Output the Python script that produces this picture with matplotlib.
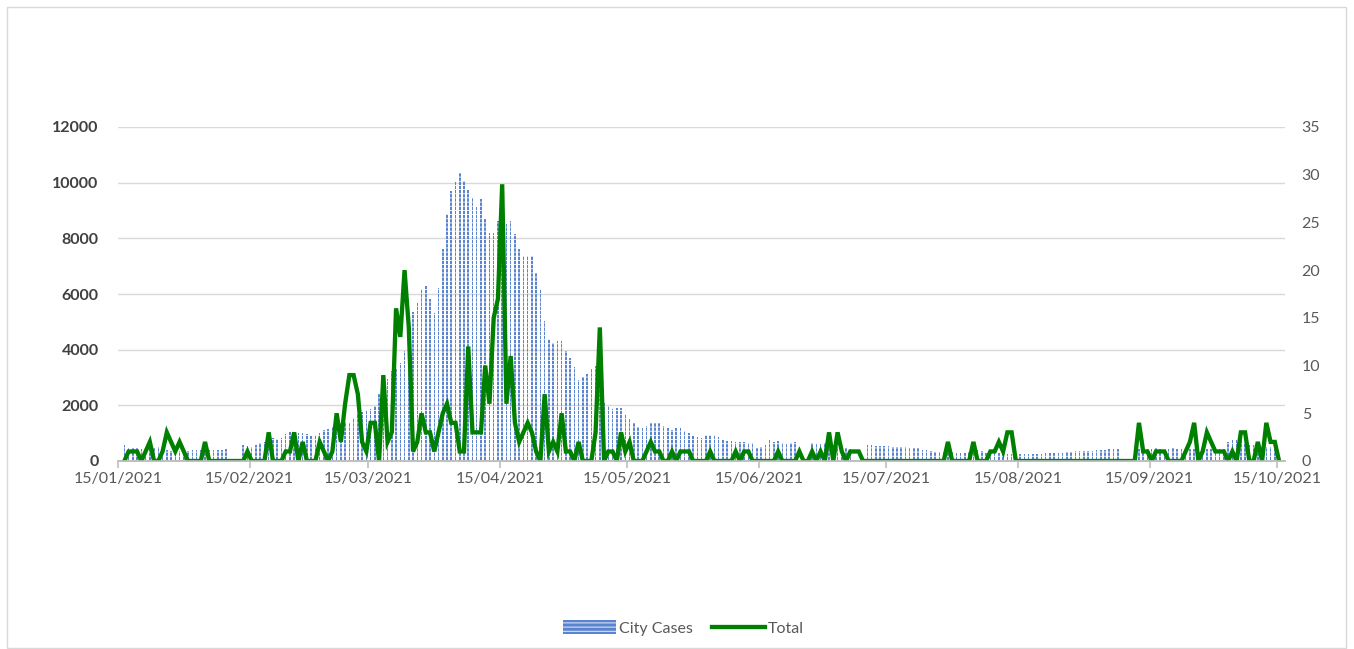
import numpy as np
import pandas as pd
import matplotlib
matplotlib.use("Agg")
import matplotlib.pyplot as plt
import matplotlib.dates as mdates
from matplotlib.patches import Rectangle

plt.rcParams['font.family'] = ['Lato', 'DejaVu Sans']
plt.rcParams['hatch.linewidth'] = 0.6

# Daily series, 16/01/2021 .. 15/10/2021 (None = no report that day)
dates = pd.date_range('2021-01-16', '2021-10-15', freq='D')

city_cases = (
    [560, 460, 450, 450, 430, 440, 560, 450, 500, 420, 380, 360, 380, 370, 350, 350,
     380, 380, 380, 430, 400, 410, 400, 410, 420]
    + [None, None, None]
    + [575, 540, 515, 575, 635, 700, 875, 840, 800, 820, 960, 1050, 1020, 1000]
    + [990, 960, 890, 920, 990, 1100, 1150, 1230, 1350, 1350, 1400, 1350, 1560, 1700,
       1760, 1820, 1880, 1960, 2420, 2650, 2950, 3250, 3300, 3510, 3960, 4680, 5370,
       5690, 6170, 6290, 5830, 5330, 6230, 7630, 8870, 9700, 10010, 10330]
    + [10060, 9740, 9460, 9110, 9430, 8700, 8190, 8190, 8610, 8630, 8520, 8630, 8150,
       7630, 7360, 7360, 7360, 6760, 6170, 5040, 4400, 4230, 4320, 4300, 3940, 3700,
       3370, 2920, 3010, 3130, 3290, 3400, 2600, 2100, 1960]
    + [1880, 1900, 1900, 1680, 1520, 1370, 1230, 1170, 1250, 1370, 1370, 1370, 1250,
       1170, 1130, 1200, 1170, 1080, 990, 890, 850, 810, 930, 950, 930, 850, 750, 730,
       730, 690, 690, 690, 650, 650, 450, 510, 570, 750, 690, 710, 630, 610, 650, 680]
    + [None, None, None]
    + [640, 620, 600, 640, 600, 560, 520, 480, 460, 420]
    + [None, None, None]
    + [560, 560, 550, 550, 540, 540, 520, 500, 500, 490, 480, 470, 460]
    + [400, 380, 350, 340, 330, 320, 310, 310, 300, 300, 290, 320, 350, 380, 370]
    + [300, 280, 280, 270, 270, 260, 260, 250]
    + [240, 240, 240, 250, 260, 260, 270, 270, 280, 280, 300]
    + [330, 340, 350, 350, 360, 360, 370, 380, 400, 410, 420, 420, 420]
    + [None, None, None, None]
    + [420, 450, 440, 430, 450, 420, 400, 430, 450, 430, 440, 420]
    + [430, 420, 400, 430, 420, 440, 450, 430, 420]
    + [700, 750, 760, 740, 600, 580, 570, 550, 520, 510, 500, 480, None]
)

total = [
    0, 1, 1, 1, 0, 1, 2, 0, 0, 1,
    3, 2, 1, 2, 1, 0, 0, 0, 0, 2,
    0, 0, 0, 0, 0, 0, 0, 0, 0, 1,
    0, 0, 0, 0, 3, 0, 0, 0, 1, 1,
    3, 0, 2, 0, 0, 0, 2, 1, 0, 1,
    5, 2, 6, 9, 9, 7, 2, 1, 4, 4,
    0, 9, 2, 3, 16, 13, 20, 14, 1, 2,
    5, 3, 3, 1, 3, 5, 6, 4, 4, 1,
    1, 12, 3, 3, 3, 10, 6, 15, 17, 29,
    6, 11, 4, 2, 3, 4, 3, 1, 0, 7,
    1, 2, 1, 5, 1, 1, 0, 2, 0, 0,
    0, 3, 14, 0, 1, 1, 0, 3, 1, 2,
    0, 0, 0, 1, 2, 1, 1, 0, 0, 1,
    0, 1, 1, 1, 0, 0, 0, 0, 1, 0,
    0, 0, 0, 0, 1, 0, 1, 1, 0, 0,
    0, 0, 0, 0, 1, 0, 0, 0, 0, 1,
    0, 0, 1, 0, 1, 0, 3, 0, 3, 1,
    0, 1, 1, 1, 0, 0, 0, 0, 0, 0,
    0, 0, 0, 0, 0, 0, 0, 0, 0, 0,
    0, 0, 0, 0, 2, 0, 0, 0, 0, 0,
    2, 0, 0, 0, 1, 1, 2, 1, 3, 3,
    0, 0, 0, 0, 0, 0, 0, 0, 0, 0,
    0, 0, 0, 0, 0, 0, 0, 0, 0, 0,
    0, 0, 0, 0, 0, 0, 0, 0, 0, 4,
    1, 1, 0, 1, 1, 1, 0, 0, 0, 0,
    1, 2, 4, 0, 1, 3, 2, 1, 1, 1,
    0, 1, 0, 3, 3, 0, 0, 2, 0, 4,
    2, 2, 0,
]

left_ticks = list(range(0, 12001, 2000))
right_ticks = list(range(0, 36, 5))
tick_dates = pd.date_range('2021-01-01', '2021-10-01', freq='MS') + pd.Timedelta(days=14)

cases_arr = np.array([np.nan if v is None else v for v in city_cases], dtype=float)
total_arr = np.array(total, dtype=float)
assert len(cases_arr) == len(dates) == len(total_arr)

W, H = 1354, 649
fig = plt.figure(figsize=(W / 100, H / 100), dpi=100)
ax = fig.add_axes([118 / W, (H - 461) / H, (1285 - 118) / W, (461 - 127) / H])
ax2 = ax.twinx()

xpos = mdates.date2num(dates) + 0.5
txt = '#595959'

bars = ax.bar(xpos, cases_arr, width=0.36, color='#5b84d0', edgecolor='white',
              linewidth=0, hatch='----', label='City Cases')
line, = ax2.plot(xpos, total_arr, color='#008000', lw=3.1, solid_joinstyle='miter',
                 label='Total')

x0 = mdates.date2num(pd.Timestamp('2021-01-15'))
ax.set_xlim(x0, x0 + 274.9)
ax.set_ylim(0, 12000)
ax.set_yticks(left_ticks)
ax2.set_ylim(0, 35)
ax2.set_yticks(right_ticks)

ax.set_xticks(mdates.date2num(tick_dates))
ax.xaxis.set_major_formatter(mdates.DateFormatter('%d/%m/%Y'))

ax.yaxis.grid(True, color='#d9d9d9', lw=1)
ax.set_axisbelow(True)

for a in (ax, ax2):
    for s in ('top', 'left', 'right'):
        a.spines[s].set_visible(False)
    a.spines['bottom'].set_color('#bfbfbf')
    a.spines['bottom'].set_linewidth(1.2)

ax.tick_params(axis='x', length=5, width=1.2, color='#bfbfbf', pad=3,
               labelsize=11.5, labelcolor=txt)
ax.tick_params(axis='y', length=0, pad=14, labelsize=11.5, labelcolor='#404040')
for lab in ax.get_yticklabels():
    lab.set_fontweight('bold')
ax2.tick_params(axis='y', length=0, pad=12, labelsize=11.5, labelcolor=txt)

fig.legend(handles=[bars, line], labels=['City Cases', 'Total'], loc='center',
           bbox_to_anchor=(0.505, 1 - 628 / H), ncol=2, frameon=False,
           fontsize=11.5, labelcolor=txt, handlelength=3.3, handleheight=0.9,
           columnspacing=1.2, handletextpad=0.2)

fig.add_artist(Rectangle((7 / W, 1 / H), (1346 - 7) / W, (648 - 7) / H,
                         transform=fig.transFigure, fill=False,
                         edgecolor='#d9d9d9', lw=1))

fig.savefig('out.png', dpi=100, facecolor='white')
